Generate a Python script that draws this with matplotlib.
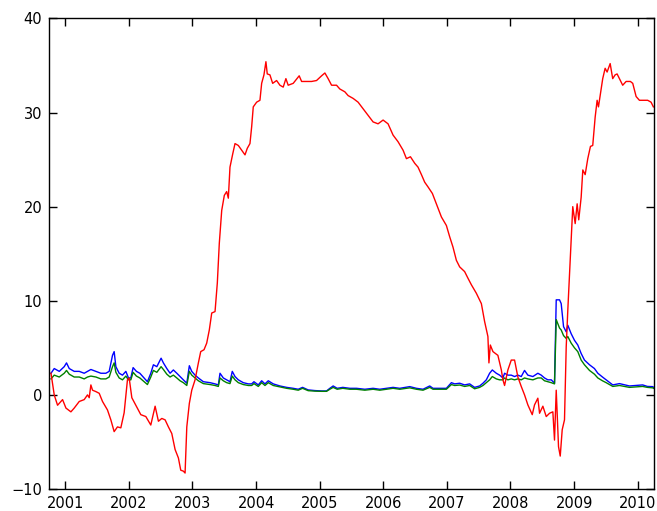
import matplotlib

matplotlib.use("Agg")
import matplotlib.pyplot as plt
import numpy as np

# decimal-year time stamps and values, read per series
red_t = [2000.776, 2000.827, 2000.879, 2000.958, 2001.011, 2001.089, 2001.141,
         2001.220, 2001.298, 2001.350, 2001.377, 2001.403, 2001.429, 2001.482,
         2001.534, 2001.586, 2001.664, 2001.717, 2001.769, 2001.821, 2001.874,
         2001.926, 2001.978, 2002.005, 2002.047, 2002.110, 2002.188, 2002.267,
         2002.345, 2002.413, 2002.465, 2002.518, 2002.570, 2002.622, 2002.675,
         2002.727, 2002.779, 2002.816, 2002.857, 2002.884, 2002.911, 2002.951,
         2002.989, 2003.041, 2003.093, 2003.130, 2003.182, 2003.224, 2003.265,
         2003.303, 2003.355, 2003.391, 2003.422, 2003.460, 2003.501, 2003.538,
         2003.564, 2003.590, 2003.633, 2003.669, 2003.721, 2003.774, 2003.826,
         2003.862, 2003.904, 2003.931, 2003.956, 2004.009, 2004.061, 2004.088,
         2004.124, 2004.155, 2004.176, 2004.218, 2004.261, 2004.323, 2004.375,
         2004.427, 2004.469, 2004.505, 2004.584, 2004.678, 2004.716, 2004.794,
         2004.873, 2004.951, 2005.030, 2005.082, 2005.133, 2005.187, 2005.265,
         2005.317, 2005.396, 2005.447, 2005.526, 2005.604, 2005.683, 2005.761,
         2005.840, 2005.918, 2005.997, 2006.075, 2006.154, 2006.232, 2006.311,
         2006.364, 2006.427, 2006.495, 2006.546, 2006.600, 2006.651, 2006.703,
         2006.772, 2006.835, 2006.914, 2006.992, 2007.044, 2007.096, 2007.149,
         2007.201, 2007.279, 2007.331, 2007.385, 2007.463, 2007.542, 2007.593,
         2007.645, 2007.661, 2007.683, 2007.724, 2007.802, 2007.856, 2007.881,
         2007.907, 2007.959, 2008.012, 2008.064, 2008.116, 2008.169, 2008.221,
         2008.273, 2008.342, 2008.378, 2008.430, 2008.457, 2008.509, 2008.562,
         2008.614, 2008.666, 2008.692, 2008.719, 2008.755, 2008.782, 2008.813,
         2008.849, 2008.876, 2008.901, 2008.943, 2008.979, 2009.017, 2009.048,
         2009.073, 2009.111, 2009.137, 2009.174, 2009.215, 2009.257, 2009.293,
         2009.331, 2009.362, 2009.383, 2009.414, 2009.450, 2009.488, 2009.519,
         2009.567, 2009.607, 2009.645, 2009.676, 2009.713, 2009.764, 2009.818,
         2009.885, 2009.922, 2009.975, 2010.027, 2010.078, 2010.157, 2010.210,
         2010.246]
red_v = [2.3, 0.0, -1.1, -0.5, -1.4, -1.8, -1.4,
         -0.7, -0.5, 0.0, -0.3, 1.06, 0.5, 0.35,
         0.17, -0.7, -1.6, -2.65, -3.9, -3.4, -3.5,
         -1.9, 1.6, 1.8, -0.3, -1.1, -2.1, -2.3,
         -3.2, -1.2, -2.8, -2.5, -2.65, -3.4, -4.1,
         -5.8, -6.7, -8.0, -8.1, -8.3, -3.4, -0.9,
         0.5, 1.6, 3.4, 4.6, 4.8, 5.5, 6.9,
         8.7, 8.85, 11.9, 16.1, 19.6, 21.2, 21.6,
         20.9, 24.2, 25.6, 26.7, 26.5, 26.0, 25.5,
         26.2, 26.7, 28.5, 30.6, 31.1, 31.3, 33.1,
         34.0, 35.4, 34.1, 34.0, 33.1, 33.4, 32.9,
         32.7, 33.6, 32.9, 33.1, 33.9, 33.3, 33.3,
         33.3, 33.4, 33.9, 34.2, 33.6, 32.9, 32.9,
         32.5, 32.2, 31.8, 31.5, 31.1, 30.4, 29.7,
         29.0, 28.8, 29.2, 28.8, 27.6, 26.9, 26.0,
         25.1, 25.3, 24.6, 24.2, 23.4, 22.6, 22.1,
         21.4, 20.3, 18.9, 18.0, 16.8, 15.7, 14.3,
         13.6, 13.1, 12.4, 11.7, 10.8, 9.7, 7.8,
         6.2, 3.4, 5.3, 4.6, 4.2, 2.65, 1.6,
         1.0, 2.65, 3.7, 3.7, 1.9, 0.9, 0.0,
         -1.06, -2.1, -1.06, -0.35, -1.95, -1.2, -2.3,
         -1.95, -1.8, -4.8, 0.5, -5.5, -6.5, -3.7,
         -2.65, 5.1, 9.0, 15.0, 20.0, 18.2, 20.3,
         18.6, 21.0, 23.9, 23.4, 25.1, 26.4, 26.5,
         29.5, 31.3, 30.6, 32.0, 33.6, 34.7, 34.3,
         35.2, 33.6, 34.0, 34.1, 33.6, 32.9, 33.3,
         33.3, 33.1, 31.7, 31.3, 31.3, 31.3, 31.1,
         30.6]

bg_t = [2000.776, 2000.827, 2000.906, 2000.984, 2001.020, 2001.063, 2001.141,
        2001.220, 2001.298, 2001.350, 2001.403, 2001.482, 2001.560, 2001.639,
        2001.691, 2001.743, 2001.769, 2001.796, 2001.848, 2001.900, 2001.953,
        2001.994, 2002.031, 2002.067, 2002.119, 2002.173, 2002.240, 2002.292,
        2002.345, 2002.386, 2002.440, 2002.507, 2002.543, 2002.597, 2002.648,
        2002.700, 2002.754, 2002.805, 2002.857, 2002.911, 2002.951, 2002.989,
        2003.041, 2003.093, 2003.171, 2003.276, 2003.355, 2003.407, 2003.433,
        2003.485, 2003.538, 2003.590, 2003.626, 2003.669, 2003.721, 2003.799,
        2003.878, 2003.931, 2003.967, 2004.035, 2004.088, 2004.140, 2004.192,
        2004.270, 2004.375, 2004.480, 2004.584, 2004.663, 2004.731, 2004.819,
        2004.925, 2005.030, 2005.108, 2005.160, 2005.212, 2005.275, 2005.364,
        2005.474, 2005.579, 2005.710, 2005.840, 2005.945, 2006.050, 2006.154,
        2006.259, 2006.416, 2006.521, 2006.625, 2006.730, 2006.782, 2006.887,
        2006.992, 2007.071, 2007.122, 2007.201, 2007.279, 2007.358, 2007.436,
        2007.515, 2007.567, 2007.620, 2007.672, 2007.714, 2007.777, 2007.829,
        2007.881, 2007.907, 2007.959, 2008.012, 2008.064, 2008.116, 2008.169,
        2008.221, 2008.273, 2008.352, 2008.430, 2008.483, 2008.535, 2008.587,
        2008.641, 2008.692, 2008.719, 2008.771, 2008.797, 2008.834, 2008.876,
        2008.901, 2008.954, 2009.006, 2009.058, 2009.111, 2009.163, 2009.242,
        2009.320, 2009.373, 2009.446, 2009.504, 2009.608, 2009.713, 2009.870,
        2009.964, 2010.078, 2010.152, 2010.235, 2010.251]
blue_v = [2.3, 2.8, 2.5, 3.0, 3.4, 2.8, 2.5,
          2.5, 2.3, 2.5, 2.7, 2.5, 2.3, 2.3,
          2.5, 4.2, 4.6, 3.0, 2.3, 2.1, 2.5,
          1.8, 1.8, 2.9, 2.5, 2.3, 1.8, 1.4,
          2.3, 3.2, 3.0, 3.9, 3.4, 2.8, 2.3,
          2.65, 2.3, 1.95, 1.6, 1.24, 3.1, 2.5,
          2.1, 1.8, 1.4, 1.3, 1.17, 1.06, 2.3,
          1.8, 1.6, 1.4, 2.5, 1.95, 1.6, 1.3,
          1.17, 1.17, 1.4, 1.06, 1.5, 1.17, 1.5,
          1.17, 0.95, 0.8, 0.7, 0.6, 0.8, 0.53,
          0.46, 0.42, 0.42, 0.7, 0.95, 0.7, 0.8,
          0.7, 0.7, 0.6, 0.7, 0.6, 0.7, 0.8,
          0.7, 0.88, 0.7, 0.6, 0.95, 0.7, 0.7,
          0.7, 1.3, 1.17, 1.24, 1.06, 1.17, 0.8,
          0.95, 1.24, 1.6, 2.3, 2.65, 2.3, 2.1,
          1.8, 2.3, 2.1, 2.1, 1.95, 2.1, 1.95,
          2.6, 2.1, 1.95, 2.3, 2.1, 1.8, 1.6,
          1.6, 1.24, 10.1, 10.1, 9.7, 7.25, 6.7,
          7.4, 6.5, 5.8, 5.3, 4.4, 3.7, 3.2,
          2.8, 2.3, 1.9, 1.6, 1.06, 1.2, 0.95,
          1.0, 1.06, 0.9, 0.88, 0.8]
green_v = [1.7, 2.1, 1.9, 2.3, 2.6, 2.2, 1.9,
           1.9, 1.7, 1.9, 2.0, 1.9, 1.7, 1.7,
           1.9, 3.0, 3.4, 2.4, 1.8, 1.6, 2.0,
           1.6, 1.6, 2.4, 2.0, 1.8, 1.4, 1.1,
           1.9, 2.6, 2.4, 3.0, 2.7, 2.2, 1.9,
           2.1, 1.8, 1.5, 1.3, 1.0, 2.5, 2.1,
           1.8, 1.5, 1.2, 1.1, 1.0, 0.9, 1.8,
           1.5, 1.3, 1.2, 2.0, 1.6, 1.3, 1.1,
           1.0, 1.0, 1.2, 0.9, 1.3, 1.0, 1.3,
           1.0, 0.85, 0.7, 0.6, 0.5, 0.7, 0.45,
           0.4, 0.38, 0.38, 0.6, 0.8, 0.6, 0.7,
           0.6, 0.6, 0.5, 0.6, 0.5, 0.6, 0.7,
           0.6, 0.75, 0.6, 0.5, 0.8, 0.6, 0.6,
           0.6, 1.1, 1.0, 1.05, 0.9, 1.0, 0.65,
           0.8, 1.0, 1.3, 1.6, 1.95, 1.7, 1.6,
           1.6, 1.8, 1.6, 1.7, 1.6, 1.7, 1.6,
           1.8, 1.7, 1.6, 1.8, 1.8, 1.5, 1.4,
           1.3, 1.17, 8.0, 7.1, 6.9, 6.3, 6.0,
           6.2, 5.5, 5.0, 4.6, 3.7, 3.2, 2.6,
           2.2, 1.8, 1.5, 1.3, 0.9, 1.0, 0.8,
           0.85, 0.9, 0.8, 0.75, 0.7]

years = list(range(2001, 2011))
y_ticks = [-10, 0, 10, 20, 30, 40]

fig = plt.figure(figsize=(6.57, 5.11), dpi=100, facecolor="white")
ax = fig.add_axes([0.075, 0.043, 0.921, 0.921])

ax.plot(bg_t, blue_v, color="b", linewidth=1.0)
ax.plot(bg_t, green_v, color="g", linewidth=1.0)
ax.plot(red_t, red_v, color="r", linewidth=1.0)

ax.set_xlim(2000.749, 2010.262)
ax.set_ylim(-10, 40)
ax.set_xticks(years, [str(y) for y in years])
ax.set_yticks(y_ticks)
ax.tick_params(direction="in", length=5.5, width=1, top=True, right=True,
               labelsize=10.5, pad=5)
for spine in ax.spines.values():
    spine.set_linewidth(1.0)

fig.savefig("out.png", dpi=100, facecolor="white")
